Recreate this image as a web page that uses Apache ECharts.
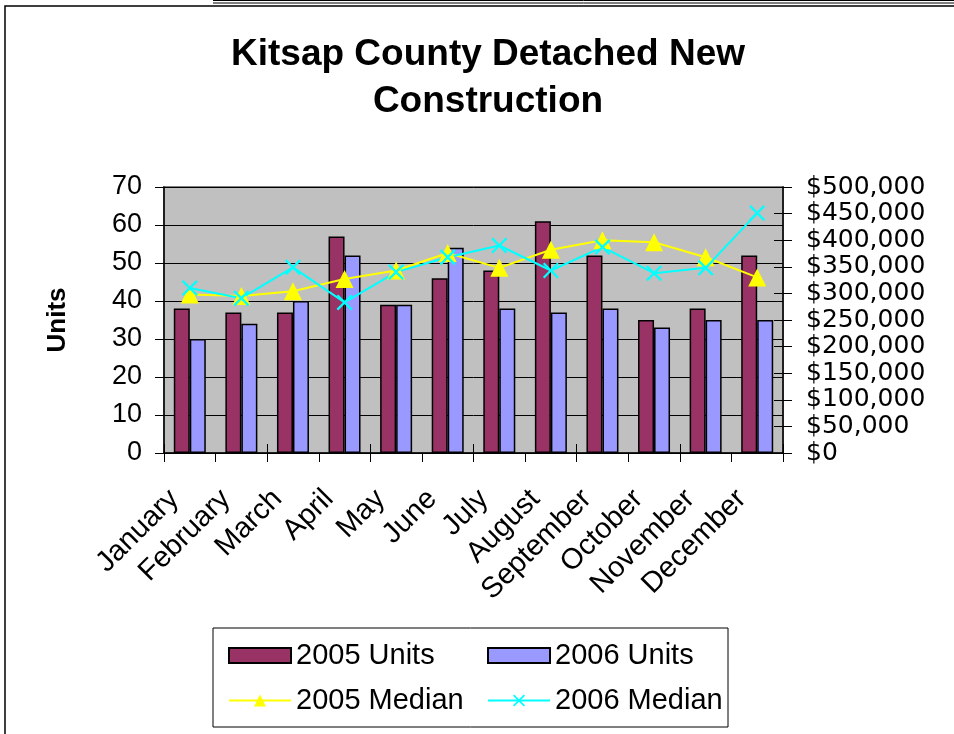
<!DOCTYPE html>
<html>
<head>
<meta charset="utf-8">
<script src="https://cdn.jsdelivr.net/npm/echarts@6/dist/echarts.min.js"></script>
<style>
  html, body { margin: 0; padding: 0; background: #fff; }
  #chart { width: 954px; height: 734px; }
</style>
</head>
<body>
<div id="chart"></div>
<script>
const months = ['January', 'February', 'March', 'April', 'May', 'June',
  'July', 'August', 'September', 'October', 'November', 'December']
const units2005 = [38, 37, 37, 57, 39, 46, 48, 61, 52, 35, 38, 52]
const units2006 = [30, 34, 40, 52, 39, 54, 38, 37, 38, 33, 35, 35]
const median2005 = [298000, 295000, 304000, 327000, 343000, 376000, 348000, 382000, 400000, 396000, 368000, 330000]
const median2006 = [310000, 291000, 349000, 283000, 340000, 368000, 390000, 343000, 387000, 338000, 348000, 451000]

const font = "'Liberation Sans', Arial, sans-serif"
// X marker for the 2006 median line
const xMark = 'path://M0,1L1,0L5,4L9,0L10,1L6,5L10,9L9,10L5,6L1,10L0,9L4,5Z'

const chart = echarts.init(document.getElementById('chart'), null, { renderer: 'canvas' })

const legendText = { fontSize: 29, color: '#000', fontFamily: font }
const money = v => '$' + v.toLocaleString('en-US')

chart.setOption({
  animation: false,
  backgroundColor: '#fff',
  textStyle: { fontFamily: font },
  title: {
    text: 'Kitsap County Detached New\nConstruction',
    left: 483,
    textAlign: 'center',
    top: 26,
    textStyle: { fontSize: 37, fontWeight: 'bold', color: '#000', lineHeight: 47, fontFamily: font }
  },
  graphic: [
    { type: 'rect', shape: { x: 5, y: 6, width: 960, height: 740 }, style: { fill: 'none', stroke: '#000', lineWidth: 1.5 }, z: 0 },
    { type: 'line', shape: { x1: 213, y1: 0.5, x2: 954, y2: 0.5 }, style: { stroke: '#000', lineWidth: 1 } },
    { type: 'line', shape: { x1: 213, y1: 3, x2: 954, y2: 3 }, style: { stroke: '#000', lineWidth: 1 } },
    { type: 'rect', shape: { x: 213, y: 628, width: 515, height: 99 }, style: { fill: 'none', stroke: '#000', lineWidth: 1 } }
  ],
  legend: [
    {
      data: [{ name: '2005 Units', icon: 'rect' }, '2005 Median'],
      orient: 'vertical',
      left: 223, top: 636,
      itemWidth: 62, itemHeight: 15, itemGap: 16,
      textStyle: legendText
    },
    {
      data: [{ name: '2006 Units', icon: 'rect' }, '2006 Median'],
      orient: 'vertical',
      left: 482, top: 636,
      itemWidth: 62, itemHeight: 15, itemGap: 16,
      textStyle: legendText
    }
  ],
  grid: {
    left: 164, right: 171, top: 187, bottom: 281,
    show: true, backgroundColor: '#c0c0c0', borderColor: '#808080', borderWidth: 2
  },
  xAxis: [
    {
      type: 'category',
      data: months,
      boundaryGap: true,
      axisLine: { lineStyle: { color: '#000', width: 1.5 } },
      axisTick: { show: true, length: 9, lineStyle: { color: '#000' } },
      axisLabel: { rotate: 45, fontSize: 29, color: '#000', margin: 26, interval: 0, padding: [0, 22, 0, 0] }
    },
    {
      // inner half of the crossing ticks
      type: 'category',
      data: months,
      position: 'bottom',
      boundaryGap: true,
      axisLine: { show: false },
      axisTick: { show: true, inside: true, length: 9, lineStyle: { color: '#000' } },
      axisLabel: { show: false }
    }
  ],
  yAxis: [
    {
      type: 'value',
      name: 'Units',
      nameLocation: 'middle',
      nameGap: 93,
      nameTextStyle: { fontSize: 26, fontWeight: 'bold', color: '#000' },
      min: 0, max: 70, interval: 10,
      axisLine: { show: true, lineStyle: { color: '#000', width: 1.5 } },
      axisTick: { show: true, length: 9, lineStyle: { color: '#000' } },
      axisLabel: { fontSize: 27, color: '#000', margin: 22 },
      splitLine: { lineStyle: { color: '#000', width: 1 } }
    },
    {
      type: 'value',
      position: 'right',
      min: 0, max: 500000, interval: 50000,
      axisLine: { show: true, lineStyle: { color: '#000', width: 1.5 } },
      axisTick: { show: true, length: 9, lineStyle: { color: '#000' } },
      axisLabel: {
        fontSize: 25, fontFamily: "'DejaVu Sans', sans-serif", color: '#000', margin: 23,
        showMinLabel: true, showMaxLabel: true,
        formatter: money
      },
      splitLine: { show: false }
    },
    {
      type: 'value',
      position: 'right',
      offset: 0,
      min: 0, max: 500000, interval: 50000,
      axisLine: { show: false },
      axisTick: { show: true, inside: true, length: 9, lineStyle: { color: '#000' } },
      axisLabel: { show: false },
      splitLine: { show: false }
    }
  ],
  series: [
    {
      name: '2005 Units',
      type: 'bar',
      data: units2005,
      barWidth: 16,
      barGap: '0%',
      itemStyle: { color: '#993366', borderColor: '#000', borderWidth: 1.5 }
    },
    {
      name: '2006 Units',
      type: 'bar',
      data: units2006,
      barWidth: 16,
      itemStyle: { color: '#9999ff', borderColor: '#000', borderWidth: 1.5 }
    },
    {
      name: '2005 Median',
      type: 'line',
      yAxisIndex: 1,
      data: median2005,
      symbol: 'triangle',
      symbolSize: 18,
      lineStyle: { color: '#ffff00', width: 2 },
      itemStyle: { color: '#ffff00' }
    },
    {
      name: '2006 Median',
      type: 'line',
      yAxisIndex: 1,
      data: median2006,
      symbol: xMark,
      symbolSize: 16,
      lineStyle: { color: '#00ffff', width: 2 },
      itemStyle: { color: '#00ffff' }
    }
  ]
})
</script>
</body>
</html>
